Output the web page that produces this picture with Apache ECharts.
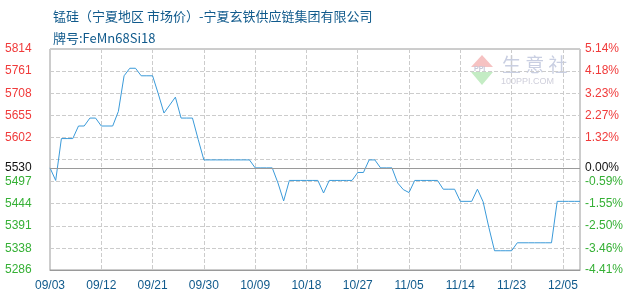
<!DOCTYPE html>
<html>
<head>
<meta charset="utf-8">
<script src="https://cdn.jsdelivr.net/npm/echarts@6/dist/echarts.min.js"></script>
<style>html,body{margin:0;padding:0;background:#fff}#c{width:630px;height:300px}</style>
</head>
<body>
<div id="c"></div>
<script>
const titleText = '锰硅（宁夏地区 市场价）-宁夏玄铁供应链集团有限公司';
const subTitleText = '牌号:FeMn68Si18';
const dates = [
 '09/03','09/04','09/05','09/06','09/07','09/08','09/09','09/10','09/11','09/12',
 '09/13','09/14','09/15','09/16','09/17','09/18','09/19','09/20','09/21','09/22',
 '09/23','09/24','09/25','09/26','09/27','09/28','09/29','09/30','10/01','10/02',
 '10/03','10/04','10/05','10/06','10/07','10/08','10/09','10/10','10/11','10/12',
 '10/13','10/14','10/15','10/16','10/17','10/18','10/19','10/20','10/21','10/22',
 '10/23','10/24','10/25','10/26','10/27','10/28','10/29','10/30','10/31','11/01',
 '11/02','11/03','11/04','11/05','11/06','11/07','11/08','11/09','11/10','11/11',
 '11/12','11/13','11/14','11/15','11/16','11/17','11/18','11/19','11/20','11/21',
 '11/22','11/23','11/24','11/25','11/26','11/27','11/28','12/02','12/03','12/04',
 '12/05','12/06','12/07','12/08'
];
const prices = [
 5530,5500,5600,5600,5600,5630,5630,5649,5649,5630,
 5630,5630,5665,5750,5768,5768,5750,5750,5750,5707,
 5661,5680,5699,5649,5649,5649,5598,5549,5549,5549,
 5549,5549,5549,5549,5549,5549,5530,5530,5530,5530,
 5494,5451,5500,5500,5500,5500,5500,5500,5470,5500,
 5500,5500,5500,5500,5519,5519,5549,5549,5530,5530,
 5530,5494,5478,5471,5500,5500,5500,5500,5500,5479,
 5479,5479,5450,5450,5450,5479,5449,5388,5332,5332,
 5332,5332,5351,5351,5351,5351,5351,5351,5351,5450,
 5450,5450,5450,5450
];
const basePrice = 5530;
const yMin = 5286, yMax = 5814, yStep = 52.8;
const leftTickLabels = ['5286','5338','5391','5444','5497','5530','5602','5655','5708','5761','5814'];
const rightTickLabels = ['-4.41%','-3.46%','-2.50%','-1.55%','-0.59%','0.00%','1.32%','2.27%','3.23%','4.18%','5.14%'];
const tickValues = leftTickLabels.map(Number);

const RED = '#f03a3a', GREEN = '#35b035', BLACK = '#111';
function colorFor(v){ return Math.abs(v - basePrice) < 1 ? BLACK : (v > basePrice ? RED : GREEN); }
function labelIndex(v){
  let best = 0, bd = 1e9;
  tickValues.forEach((t,i)=>{ const d = Math.abs(t - v); if (d < bd){ bd = d; best = i; } });
  return best;
}
const richColors = { r:{color:RED}, g:{color:GREEN}, k:{color:BLACK} };
function tag(v){ const c = colorFor(v); return c === RED ? 'r' : (c === GREEN ? 'g' : 'k'); }

const chart = echarts.init(document.getElementById('c'), null, {renderer:'canvas'});
const axisFont = 'Liberation Sans, Arial, sans-serif';
const cjkFont = '"Noto Sans CJK SC", sans-serif';
chart.setOption({
  animation: false,
  title: [
    {text: titleText, left: 48, top: 5, textStyle:{fontSize:13, fontWeight:'normal', color:'#105a8c', fontFamily: cjkFont}},
    {text: subTitleText, left: 48, top: 27, textStyle:{fontSize:13, fontWeight:'normal', color:'#105a8c', fontFamily: cjkFont}}
  ],
  grid: {left: 50, right: 50, top: 49, bottom: 30, show: true, borderColor: '#9a9a9a', borderWidth: 1},
  graphic: [
    {type:'polygon', shape:{points:[[482,55],[471,67],[493,67]]}, style:{fill:'#f6c2c2'}, silent:true},
    {type:'polygon', shape:{points:[[471,72],[493,72],[482,85]]}, style:{fill:'#c4ecc4'}, silent:true},
    {type:'text', x:474, y:66, style:{text:'PPI', font:'bold 7px Liberation Sans', fill:'#c8c8d8'}, silent:true},
    {type:'text', x:502, y:55, style:{text:'生 意 社', font:'19px "Noto Sans CJK SC"', fill:'#c9cfe2'}, silent:true},
    {type:'text', x:501, y:77, style:{text:'100PPI.COM', font:'9px Liberation Sans', fill:'#cfcfdb'}, silent:true}
  ],
  xAxis: {
    type: 'category', data: dates, boundaryGap: false,
    axisLine: {lineStyle:{color:'#9a9a9a'}},
    axisTick: {show:false},
    axisLabel: {interval: 8, color:'#105a8c', fontSize: 12, fontFamily: axisFont, margin: 10},
    splitLine: {show:true, interval: 8, lineStyle:{color:'#cccccc', type:'dashed'}}
  },
  yAxis: [
    {
      type:'value', min:yMin, max:yMax, interval:yStep, position:'left',
      axisLine:{show:false}, axisTick:{show:false},
      splitLine:{show:true, lineStyle:{color:'#cccccc', type:'dashed'}},
      axisLabel:{
        customValues: tickValues, margin: 45, align:'left', padding:[0,0,0,0],
        fontSize: 12, fontFamily: axisFont,
        formatter: v => '{' + tag(v) + '|' + leftTickLabels[labelIndex(v)] + '}',
        rich: richColors
      }
    },
    {
      type:'value', min:yMin, max:yMax, interval:yStep, position:'right',
      axisLine:{show:false}, axisTick:{show:false}, splitLine:{show:false},
      axisLabel:{
        customValues: tickValues, margin: 5,
        fontSize: 12, fontFamily: axisFont,
        formatter: v => '{' + tag(v) + '|' + rightTickLabels[labelIndex(v)] + '}',
        rich: richColors
      }
    }
  ],
  series: [{
    type:'line', data: prices, yAxisIndex: 0,
    showSymbol:false, symbol:'none',
    lineStyle:{color:'#3a9ad9', width:1}, itemStyle:{color:'#3a9ad9'},
    markLine: {
      silent:true, symbol:['none','none'], animation:false,
      label:{show:false},
      lineStyle:{color:'#9a9a9a', type:'solid', width:1},
      data:[{yAxis: basePrice}]
    }
  }]
});
</script>
</body>
</html>
